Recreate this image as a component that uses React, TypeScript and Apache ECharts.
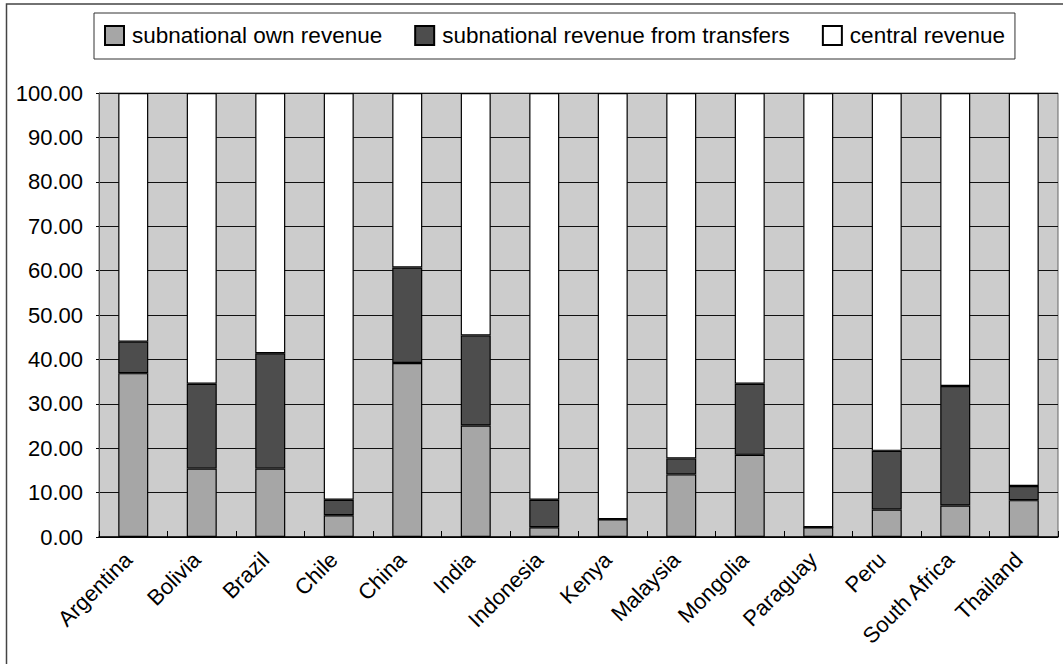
import React, { useEffect, useRef } from "react";
import * as echarts from "echarts";

// Revenue shares (% of total) by country
const countries = [
  "Argentina", "Bolivia", "Brazil", "Chile", "China", "India", "Indonesia",
  "Kenya", "Malaysia", "Mongolia", "Paraguay", "Peru", "South Africa", "Thailand",
];
const ownRevenue = [36.9, 15.4, 15.4, 4.9, 39.2, 25.1, 2.2, 4.0, 14.1, 18.5, 2.2, 6.2, 7.1, 8.3];
const transferRevenue = [7.1, 19.1, 26.0, 3.5, 21.5, 20.3, 6.2, 0, 3.6, 16.0, 0, 13.2, 26.9, 3.2];
const centralRevenue = [56.0, 65.5, 58.6, 91.6, 39.3, 54.6, 91.6, 96.0, 82.3, 65.5, 97.8, 80.6, 66.0, 88.5];
const seriesNames = [
  "subnational own revenue",
  "subnational revenue from transfers",
  "central revenue",
];

const FONT = "'Liberation Sans', Arial, sans-serif";

export default function App() {
  const ref = useRef<HTMLDivElement>(null);

  useEffect(() => {
    if (!ref.current) return;
    const chart = echarts.init(ref.current, undefined, { renderer: "svg" });

    const barStyle = (color: string) => ({
      color,
      borderColor: "#000",
      borderWidth: 1.2,
    });

    chart.setOption({
      animation: false,
      backgroundColor: "#fff",
      textStyle: { fontFamily: FONT },
      graphic: [
        {
          type: "rect",
          shape: { x: 6.5, y: 4, width: 1100, height: 700 },
          style: { fill: "none", stroke: "#444", lineWidth: 1.5 },
          silent: true,
        },
      ],
      legend: {
        left: 94,
        top: 13,
        padding: [11, 10, 12, 10],
        itemWidth: 19,
        itemHeight: 19,
        itemGap: 32,
        borderColor: "#333",
        borderWidth: 1,
        icon: "rect",
        textStyle: {
          fontSize: 22.5,
          color: "#000",
          fontFamily: FONT,
          padding: [0, 0, 0, 3],
        },
        data: seriesNames,
      },
      grid: {
        left: 99,
        right: 5,
        top: 93,
        bottom: 127,
        show: true,
        backgroundColor: "#cccccc",
        borderColor: "#666",
        borderWidth: 1,
      },
      xAxis: {
        type: "category",
        data: countries,
        axisLine: { lineStyle: { color: "#000", width: 1.5 } },
        axisTick: { show: true, inside: true, length: 6, lineStyle: { color: "#000" } },
        axisLabel: {
          interval: 0,
          rotate: 45,
          fontSize: 22,
          color: "#000",
          fontFamily: FONT,
          margin: 14,
          padding: [0, 7, 0, 0],
        },
      },
      yAxis: {
        type: "value",
        min: 0,
        max: 100,
        interval: 10,
        axisLine: { show: true, lineStyle: { color: "#555" } },
        axisTick: { show: true, length: 3, lineStyle: { color: "#000" } },
        axisLabel: {
          fontSize: 22,
          color: "#000",
          fontFamily: FONT,
          margin: 16,
          formatter: (v: number) => v.toFixed(2),
        },
        splitLine: { show: true, lineStyle: { color: "#111", width: 1 } },
      },
      series: [
        {
          name: seriesNames[0],
          type: "bar",
          stack: "total",
          barWidth: 30,
          data: ownRevenue,
          itemStyle: barStyle("#a6a6a6"),
        },
        {
          name: seriesNames[1],
          type: "bar",
          stack: "total",
          barWidth: 30,
          data: transferRevenue,
          itemStyle: barStyle("#4d4d4d"),
        },
        {
          name: seriesNames[2],
          type: "bar",
          stack: "total",
          barWidth: 30,
          data: centralRevenue,
          itemStyle: barStyle("#ffffff"),
        },
      ],
    });

    return () => chart.dispose();
  }, []);

  return (
    <div
      ref={ref}
      style={{ position: "fixed", left: 0, top: 0, width: 1063, height: 664 }}
    />
  );
}
